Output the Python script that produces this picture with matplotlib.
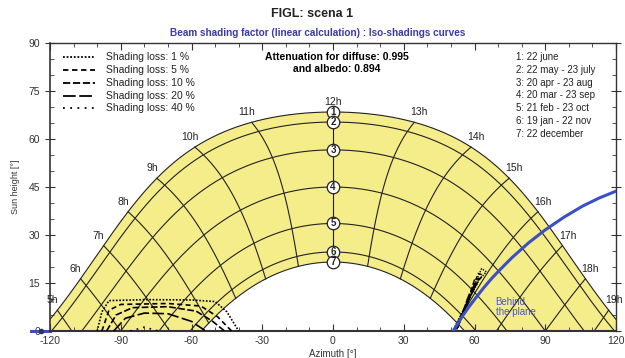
import numpy as np
import matplotlib.pyplot as plt
from matplotlib.ticker import MultipleLocator

plt.rcParams['font.family'] = ['Liberation Sans', 'DejaVu Sans']
plt.rcParams['axes.unicode_minus'] = False

# site and sun path data
latitude = 45.0
date_labels = ['1: 22 june', '2: 22 may - 23 july', '3: 20 apr - 23 aug',
               '4: 20 mar - 23 sep', '5: 21 feb - 23 oct', '6: 19 jan - 22 nov',
               '7: 22 december']
declinations = [23.44, 20.3, 11.6, 0.0, -11.4, -20.3, -23.44]
hours = list(range(5, 20))

# iso-shading curves (azimuth, height)
iso_labels = ['Shading loss: 1 %', 'Shading loss: 5 %', 'Shading loss: 10 %',
              'Shading loss: 20 %', 'Shading loss: 40 %']
iso_styles = [(0, (1, 1)), (0, (3, 2)), (0, (4, 1.5)), (0, (7, 2)), (0, (1, 3))]
iso_left_az = [
    [-100, -98, -95, -80, -60, -50, -45, -40],
    [-98, -95, -90, -70, -56, -49, -43],
    [-96, -92, -85, -70, -58, -51, -46],
    [-93, -88, -80, -70, -60, -54],
    [-86, -80, -74],
]
iso_left_h = [
    [0, 6, 9.5, 9.8, 9.7, 9.2, 6, 0],
    [0, 6.5, 8.3, 8.6, 7.8, 4.5, 0],
    [0, 5, 7.3, 7.6, 6.2, 3, 0],
    [0, 4, 5.6, 5.4, 3, 0],
    [0, 1.2, 0],
]
iso_right_az = [
    [51, 57, 62, 65, 63, 58, 52],
    [51.5, 57, 61.5, 63.5, 61.5, 57.5, 52.5],
    [52, 57, 61, 62, 60, 56.5, 53],
    [52.5, 57, 60, 60.5, 58, 55],
    [53, 56, 58.5, 57, 54],
]
iso_right_h = [
    [0.5, 9, 16, 18.5, 19.5, 11, 0.5],
    [0.5, 9, 15.5, 17.5, 18, 9.5, 1.5],
    [0.5, 9, 15, 16.5, 16, 8, 2],
    [0.5, 8.5, 14, 15, 12, 6],
    [1, 7, 12, 10, 4],
]

# "behind the plane" limit
behind_az = [51, 53, 55, 58, 61, 64, 67.5, 71, 76, 83, 90, 98, 106, 113, 121]
behind_h = [0, 2.4, 4.8, 7.9, 10.8, 13.6, 16.6, 19.3, 23, 27.6, 31.6, 35.6, 39.1, 41.6, 44]
behind_stub_az = [-128, -120]
behind_stub_h = [0, 0]


def sun_position(decl, hour_angle):
    d = np.radians(decl)
    H = np.radians(hour_angle)
    phi = np.radians(latitude)
    sin_h = np.sin(phi) * np.sin(d) + np.cos(phi) * np.cos(d) * np.cos(H)
    h = np.degrees(np.arcsin(sin_h))
    az = np.degrees(np.arctan2(np.sin(H) * np.cos(d),
                               np.cos(H) * np.cos(d) * np.sin(phi) - np.sin(d) * np.cos(phi)))
    return az, h


fig = plt.figure(figsize=(6.25, 3.58), dpi=100)
ax = fig.add_axes([0.08, 0.0754, 0.9056, 0.8045])
ax.set_xlim(-120, 120)
ax.set_ylim(0, 90)

# yellow zone between june and december paths
H_all = np.linspace(-180, 180, 1441)
az_s, h_s = sun_position(declinations[0], H_all)
az_w, h_w = sun_position(declinations[-1], H_all)
ms = h_s >= 0
mw = h_w >= 0
poly_az = np.concatenate([az_s[ms], az_w[mw][::-1]])
poly_h = np.concatenate([np.clip(h_s[ms], 0, None), np.clip(h_w[mw][::-1], 0, None)])
ax.fill(poly_az, poly_h, color='#f4ed8a', zorder=1, lw=0)

# date curves
for d in declinations:
    az, h = sun_position(d, H_all)
    h = np.where(h >= 0, h, np.nan)
    ax.plot(az, h, color='#222222', lw=0.8, zorder=2)

# hour lines
decl_range = np.linspace(declinations[-1], declinations[0], 300)
for hr in hours:
    az, h = sun_position(decl_range, (hr - 12) * 15.0)
    h = np.where(h >= 0, h, np.nan)
    ax.plot(az, h, color='#222222', lw=0.8, zorder=2)

    # hour label near the june curve
    az1, h1 = sun_position(declinations[0], (hr - 12) * 15.0)
    ax.annotate(f'{hr}h', (az1, h1), xytext=(np.sign(az1) * 5, 10),
                textcoords='offset pixels', ha='center', va='center',
                fontsize=7.5, color='#222222', zorder=5, annotation_clip=False)

# numbered markers at noon
for i, d in enumerate(declinations):
    az0, h0 = sun_position(d, 0.0)
    ax.plot(az0, h0, 'o', ms=9, mfc='white', mec='#222222', mew=0.9, zorder=4)
    ax.text(az0, h0, str(i + 1), ha='center', va='center', fontsize=7,
            fontweight='bold', color='#222222', zorder=5)

# iso-shading curves
for i in range(len(iso_labels)):
    ax.plot(iso_left_az[i], iso_left_h[i], color='black', lw=1.2,
            linestyle=iso_styles[i], zorder=3)
    ax.plot(iso_right_az[i], iso_right_h[i], color='black', lw=1.0,
            linestyle=iso_styles[i], zorder=3)

# behind the plane
ax.plot(behind_az, behind_h, color='#3c4fc4', lw=2.2, zorder=3)
ax.plot(behind_stub_az, behind_stub_h, color='#3c4fc4', lw=2.2, zorder=1.9, clip_on=False)
ax.plot([-124], [0], 'o', ms=3, color='#33335a', zorder=3, clip_on=False)
ax.text(69, 7.5, 'Behind\nthe plane', color='#4a55d0', fontsize=7,
        ha='left', va='center', linespacing=0.95, zorder=5)

# legend of iso-shading lines
for i, lab in enumerate(iso_labels):
    y = 0.951 - i * 0.0445
    ax.plot([0.023, 0.079], [y, y], transform=ax.transAxes, color='black',
            lw=1.3, linestyle=iso_styles[i], zorder=5)
    ax.text(0.099, y, lab, transform=ax.transAxes, fontsize=7.5,
            va='center', ha='left', color='#222222')

# date legend
for i, lab in enumerate(date_labels):
    ax.text(0.824, 0.951 - i * 0.0444, lab, transform=ax.transAxes, fontsize=7,
            va='center', ha='left', color='#222222')

ax.text(0.507, 0.951, 'Attenuation for diffuse: 0.995', transform=ax.transAxes,
        fontsize=7.5, fontweight='bold', ha='center', va='center')
ax.text(0.507, 0.909, 'and albedo: 0.894', transform=ax.transAxes,
        fontsize=7.5, fontweight='bold', ha='center', va='center')

# axes styling
ax.xaxis.set_major_locator(MultipleLocator(30))
ax.xaxis.set_minor_locator(MultipleLocator(10))
ax.yaxis.set_major_locator(MultipleLocator(15))
ax.yaxis.set_minor_locator(MultipleLocator(5))
ax.tick_params(axis='both', which='both', direction='in', top=True, right=True,
               labelsize=7.5, labelcolor='#333333', color='#333333')
ax.tick_params(axis='both', which='major', length=5)
ax.tick_params(axis='both', which='minor', length=3)
ax.tick_params(axis='y', which='major', direction='inout', length=7)
for sp in ax.spines.values():
    sp.set_color('#333333')
    sp.set_linewidth(1.0)
ax.spines['bottom'].set_linewidth(1.5)
ax.spines['left'].set_linewidth(1.2)

ax.set_xlabel('Azimuth [°]', fontsize=7, labelpad=2, color='#333333')
ax.set_ylabel('Sun height [°]', fontsize=6.5, labelpad=6, color='#333333')

fig.text(0.5, 0.961, 'FIGL: scena 1', ha='center', va='center',
         fontsize=9, fontweight='bold', color='#222222')
fig.text(0.508, 0.908, 'Beam shading factor (linear calculation) : Iso-shadings curves',
         ha='center', va='center', fontsize=7.2, fontweight='bold', color='#3a3aa8')

fig.savefig('out.png', dpi=100)
